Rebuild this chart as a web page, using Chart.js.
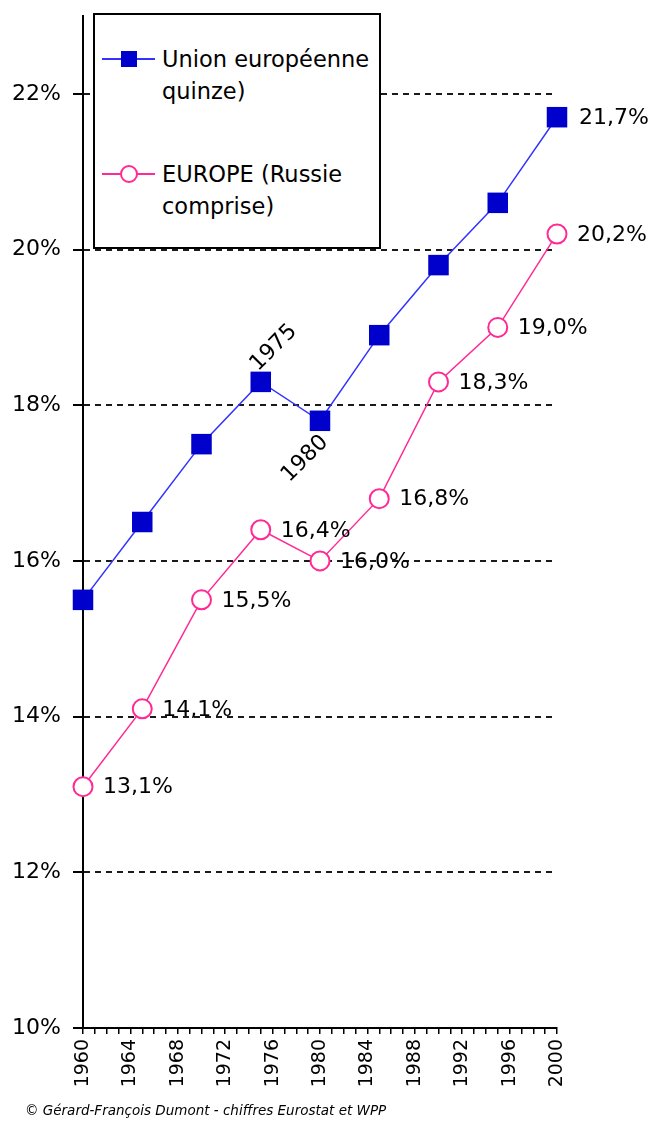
<!DOCTYPE html>
<html lang="fr">
<head>
<meta charset="UTF-8">
<title>Part des plus de 60 ans</title>
<script src="https://cdn.jsdelivr.net/npm/chart.js@4/dist/chart.umd.min.js"></script>
<style>
  body { margin: 0; background: #fff; font-family: "DejaVu Sans", sans-serif; }
  #wrap { position: relative; width: 650px; height: 1126px; }
  #legend { position: absolute; left: 93px; top: 13px; width: 288px; height: 236px; box-sizing: border-box;
            border: 2px solid #000; background: #fff; }
  .item { position: absolute; left: 0; width: 100%; }
  .line { position: absolute; left: 7px; width: 53px; height: 2px; }
  .txt { position: absolute; left: 67px; font-size: 22.5px; line-height: 32px; color: #000; white-space: nowrap; }
  #source { position: absolute; left: 25px; top: 1102px; font-size: 13.5px; font-style: italic; color: #000; }
</style>
</head>
<body>
<div id="wrap">
  <canvas id="chart" width="650" height="1126"></canvas>
  <div id="legend">
    <div class="item" style="top:28px">
      <div class="line" style="top:15px;background:#3333ff"></div>
      <div style="position:absolute;left:26px;top:8px;width:16px;height:16px;background:#0000cc"></div>
      <div class="txt">Union européenne<br>quinze)</div>
    </div>
    <div class="item" style="top:143px">
      <div class="line" style="top:15px;background:#ff2a95"></div>
      <div style="position:absolute;left:25px;top:7px;width:14px;height:14px;border:2px solid #ff2a95;border-radius:50%;background:#fff"></div>
      <div class="txt">EUROPE (Russie<br>comprise)</div>
    </div>
  </div>
  <div id="source">© Gérard-François Dumont - chiffres Eurostat et WPP</div>
</div>

<script>
var years = [1960, 1965, 1970, 1975, 1980, 1985, 1990, 1995, 2000];
var ue15 = [15.5, 16.5, 17.5, 18.3, 17.8, 18.9, 19.8, 20.6, 21.7];
var europe = [13.1, 14.1, 15.5, 16.4, 16.0, 16.8, 18.3, 19.0, 20.2];
var yTicks = [10, 12, 14, 16, 18, 20, 22];
var xTickLabels = [1960, 1964, 1968, 1972, 1976, 1980, 1984, 1988, 1992, 1996, 2000];

function pct(v) {
    return v.toFixed(1).replace('.', ',') + '%';
}

var labelsPlugin = {
    id: 'pointLabels',
    beforeDatasetsDraw: function(chart) {
        // small solid tick marks on the y axis
        var ctx = chart.ctx, y = chart.scales.y, left = chart.chartArea.left;
        ctx.save();
        ctx.strokeStyle = '#000';
        ctx.lineWidth = 2;
        y.ticks.forEach(function(t) {
            var py = Math.round(y.getPixelForValue(t.value));
            ctx.beginPath();
            ctx.moveTo(left - 10, py);
            ctx.lineTo(left, py);
            ctx.stroke();
        });
        ctx.restore();
    },
    afterDatasetsDraw: function(chart) {
        var ctx = chart.ctx;
        var ptsEu = chart.getDatasetMeta(0).data;
        var ptsEur = chart.getDatasetMeta(1).data;
        ctx.save();
        ctx.font = '22px "DejaVu Sans"';
        ctx.fillStyle = '#000';
        ctx.textAlign = 'left';
        ctx.textBaseline = 'middle';
        europe.forEach(function(v, i) {
            ctx.fillText(pct(v), ptsEur[i].x + 20, ptsEur[i].y + 1);
        });
        var last = ptsEu.length - 1;
        ctx.fillText(pct(ue15[last]), ptsEu[last].x + 22, ptsEu[last].y + 1);

        // rotated year labels on the 1975 and 1980 points
        ctx.textAlign = 'center';
        [[3, 13, -34], [4, -15, 38]].forEach(function(r) {
            var p = ptsEu[r[0]];
            ctx.save();
            ctx.translate(p.x + r[1], p.y + r[2]);
            ctx.rotate(-Math.PI / 4);
            ctx.fillText(String(years[r[0]]), 0, 0);
            ctx.restore();
        });
        ctx.restore();
    }
};

var ctx = document.getElementById('chart').getContext('2d');
new Chart(ctx, {
    type: 'line',
    data: {
        datasets: [
            {
                label: 'Union européenne quinze)',
                data: years.map(function(x, i) { return {x: x, y: ue15[i]}; }),
                borderColor: '#3333ff',
                borderWidth: 1.5,
                pointStyle: 'rect',
                pointRadius: 14.5,
                pointBackgroundColor: '#0000cc',
                pointBorderColor: '#0000cc',
                pointBorderWidth: 0,
                tension: 0,
                clip: false
            },
            {
                label: 'EUROPE (Russie comprise)',
                data: years.map(function(x, i) { return {x: x, y: europe[i]}; }),
                borderColor: '#ff2a95',
                borderWidth: 1.5,
                pointStyle: 'circle',
                pointRadius: 9.5,
                pointBackgroundColor: '#fff',
                pointBorderColor: '#ff2a95',
                pointBorderWidth: 2,
                tension: 0,
                clip: false
            }
        ]
    },
    options: {
        responsive: false,
        animation: false,
        devicePixelRatio: 1,
        layout: { padding: { top: 16, right: 93, left: 0, bottom: 0 } },
        plugins: { legend: { display: false }, tooltip: { enabled: false } },
        scales: {
            x: {
                type: 'linear',
                min: 1960,
                max: 2000,
                afterBuildTicks: function(axis) {
                    var t = [];
                    for (var yr = 1960; yr <= 2000; yr++) t.push({ value: yr });
                    axis.ticks = t;
                },
                afterFit: function(axis) {
                    axis.height = 98;
                    axis.paddingLeft = 0;
                    axis.paddingRight = 0;
                },
                grid: { drawOnChartArea: false, drawTicks: true, tickLength: 6, color: '#000', lineWidth: 1.5 },
                border: { color: '#000', width: 2 },
                ticks: {
                    autoSkip: false,
                    maxRotation: 90,
                    minRotation: 90,
                    padding: 5,
                    color: '#000',
                    font: { family: 'DejaVu Sans', size: 19 },
                    callback: function(v) { return xTickLabels.indexOf(v) >= 0 ? String(v) : ''; }
                }
            },
            y: {
                min: 10,
                max: 23,
                afterBuildTicks: function(axis) {
                    axis.ticks = yTicks.map(function(v) { return { value: v }; });
                },
                afterFit: function(axis) {
                    axis.width = 83;
                    axis.paddingTop = 0;
                    axis.paddingBottom = 0;
                },
                grid: { drawTicks: false, color: '#1a1a1a', lineWidth: 2 },
                border: { color: '#000', width: 2, dash: [6, 5] },
                ticks: {
                    padding: 22,
                    color: '#000',
                    font: { family: 'DejaVu Sans', size: 22 },
                    callback: function(v) { return v + '%'; }
                }
            }
        }
    },
    plugins: [labelsPlugin]
});
</script>
</body>
</html>
